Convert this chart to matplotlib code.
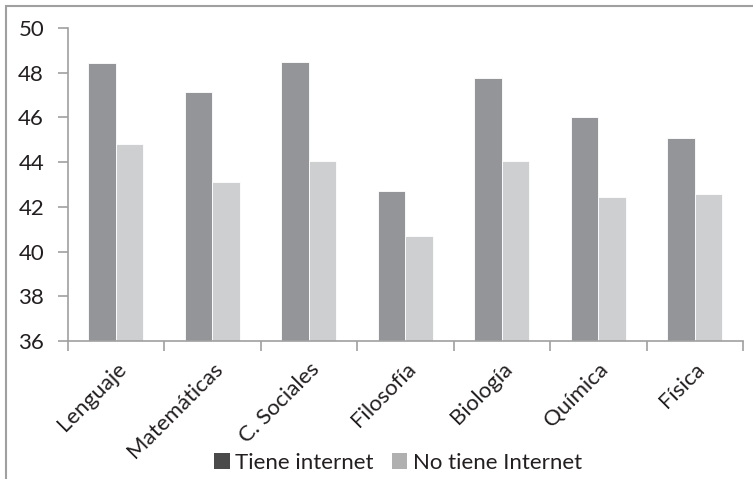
import matplotlib
matplotlib.use("Agg")
import matplotlib.pyplot as plt
import numpy as np
from matplotlib.patches import Patch, Rectangle

categories = ["Lenguaje", "Matemáticas", "C. Sociales", "Filosofía", "Biología", "Química", "Física"]
tiene_internet = [48.45, 47.15, 48.5, 42.73, 47.76, 46.0, 45.08]
no_tiene_internet = [44.83, 43.13, 44.05, 40.70, 44.05, 42.44, 42.59]
series_names = ["Tiene internet", "No tiene Internet"]
yticks = [36, 38, 40, 42, 44, 46, 48, 50]

plt.rcParams['font.family'] = ['Lato', 'DejaVu Sans']

fig = plt.figure(figsize=(7.53, 4.79), dpi=100)
W, H = 753, 479
ax = fig.add_axes([67.7 / W, 1 - 341 / H, (743 - 67.7) / W, (341 - 28) / H])

x = np.arange(len(categories))
bw = 0.285
ax.bar(x - bw / 2, tiene_internet, bw, color="#939598", edgecolor="white", linewidth=0.6, zorder=2)
ax.bar(x + bw / 2, no_tiene_internet, bw, color="#cdcfd1", edgecolor="white", linewidth=0.6, zorder=2)

ax.set_xlim(-0.5, len(categories) - 0.5)
ax.set_ylim(36, 50)
ax.set_yticks(yticks)
ax.set_yticklabels([str(v) for v in yticks], fontsize=16, color="#231f20")

ax.set_xticks(np.arange(len(categories) + 1) - 0.5)
ax.set_xticklabels([])
ax.set_xticks(x, minor=True)
ax.set_xticklabels(categories, minor=True, rotation=45, ha="right", va="top",
                   rotation_mode="anchor", fontsize=16, color="#231f20")
ax.tick_params(axis="x", which="minor", length=0, pad=13)
ax.tick_params(axis="x", which="major", length=7, color="#a0a0a0", width=1.2)
ax.tick_params(axis="y", length=7, color="#a0a0a0", width=1.2, pad=10)

for s in ["top", "right"]:
    ax.spines[s].set_visible(False)
for s in ["left", "bottom"]:
    ax.spines[s].set_color("#a0a0a0")
    ax.spines[s].set_linewidth(1.2)

# outer chart border (only top and left visible in reference)
fig.patches.append(Rectangle((6 / W, -0.1), 1.1, 1 - 5.5 / H + 0.1, transform=fig.transFigure,
                             fill=False, edgecolor="#a0a0a0", linewidth=1.5))

handles = [Patch(facecolor="#4a4a4a", edgecolor="none"), Patch(facecolor="#b0b0b0", edgecolor="none")]
fig.legend(handles, series_names, loc="center", bbox_to_anchor=(398 / W, 1 - 463 / H),
           ncol=2, frameon=False, fontsize=16, handlelength=0.7, handleheight=0.7,
           handletextpad=0.25, columnspacing=0.8, labelcolor="#231f20")

fig.savefig("out.png", dpi=100)
